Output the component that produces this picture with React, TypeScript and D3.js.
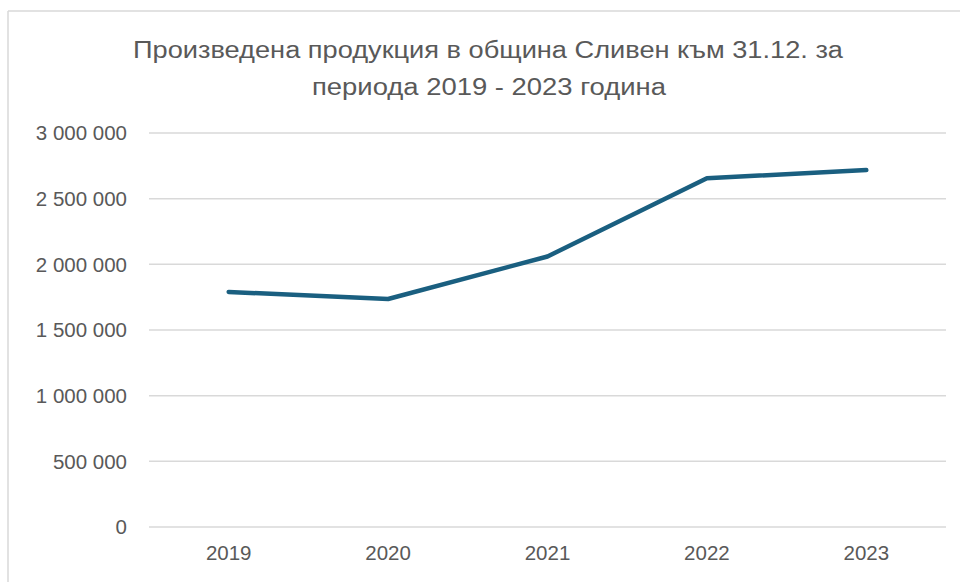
import React from "react";
import * as d3 from "d3";

const categories = ["2019", "2020", "2021", "2022", "2023"];
const values = [1790000, 1736000, 2060000, 2655000, 2718000];
const yTicks = [0, 500000, 1000000, 1500000, 2000000, 2500000, 3000000];
const titleLines = [
  "Произведена продукция в община Сливен към 31.12. за",
  "периода 2019 - 2023 година",
];

const W = 960;
const H = 582;
const plot = { left: 149, right: 946, top: 133, bottom: 527 };

const fmt = (v: number) => d3.format(",")(v).replace(/,/g, " ");

export default function App() {
  const x = d3
    .scaleBand<string>()
    .domain(categories)
    .range([plot.left, plot.right])
    .paddingInner(0)
    .paddingOuter(0);
  const y = d3.scaleLinear().domain([0, 3000000]).range([plot.bottom, plot.top]);
  const line = d3
    .line<number>()
    .x((_, i) => (x(categories[i]) as number) + x.bandwidth() / 2)
    .y((d) => y(d));

  const font = "'Liberation Sans', Arial, sans-serif";
  return (
    <div style={{ position: "absolute", left: 0, top: 0 }}>
      <svg width={W} height={H} style={{ display: "block" }}>
        <rect x={0} y={0} width={W} height={H} fill="#ffffff" />
        <line x1={8} y1={11} x2={W} y2={11} stroke="#d9d9d9" strokeWidth={1.5} />
        <line x1={8} y1={11} x2={8} y2={H} stroke="#d9d9d9" strokeWidth={1.5} />
        {titleLines.map((t, i) => (
          <text
            key={i}
            x={i === 0 ? 488 : 489}
            y={58 + i * 37}
            textAnchor="middle"
            fontFamily={font}
            fontSize={23.5}
            fill="#595959"
            textLength={i === 0 ? 710 : 354}
            lengthAdjust="spacingAndGlyphs"
          >
            {t}
          </text>
        ))}
        {yTicks.map((t) => (
          <g key={t}>
            <line
              x1={plot.left}
              x2={plot.right}
              y1={y(t)}
              y2={y(t)}
              stroke="#d9d9d9"
              strokeWidth={1.5}
            />
            <text
              x={127}
              y={y(t)}
              dy="0.35em"
              textAnchor="end"
              fontFamily={font}
              fontSize={20.5}
              fill="#595959"
            >
              {fmt(t)}
            </text>
          </g>
        ))}
        {categories.map((c) => (
          <text
            key={c}
            x={(x(c) as number) + x.bandwidth() / 2}
            y={553}
            dy="0.35em"
            textAnchor="middle"
            fontFamily={font}
            fontSize={20.5}
            fill="#595959"
          >
            {c}
          </text>
        ))}
        <path
          d={line(values) || ""}
          fill="none"
          stroke="#1a5f80"
          strokeWidth={4.5}
          strokeLinejoin="round"
          strokeLinecap="round"
        />
      </svg>
    </div>
  );
}
